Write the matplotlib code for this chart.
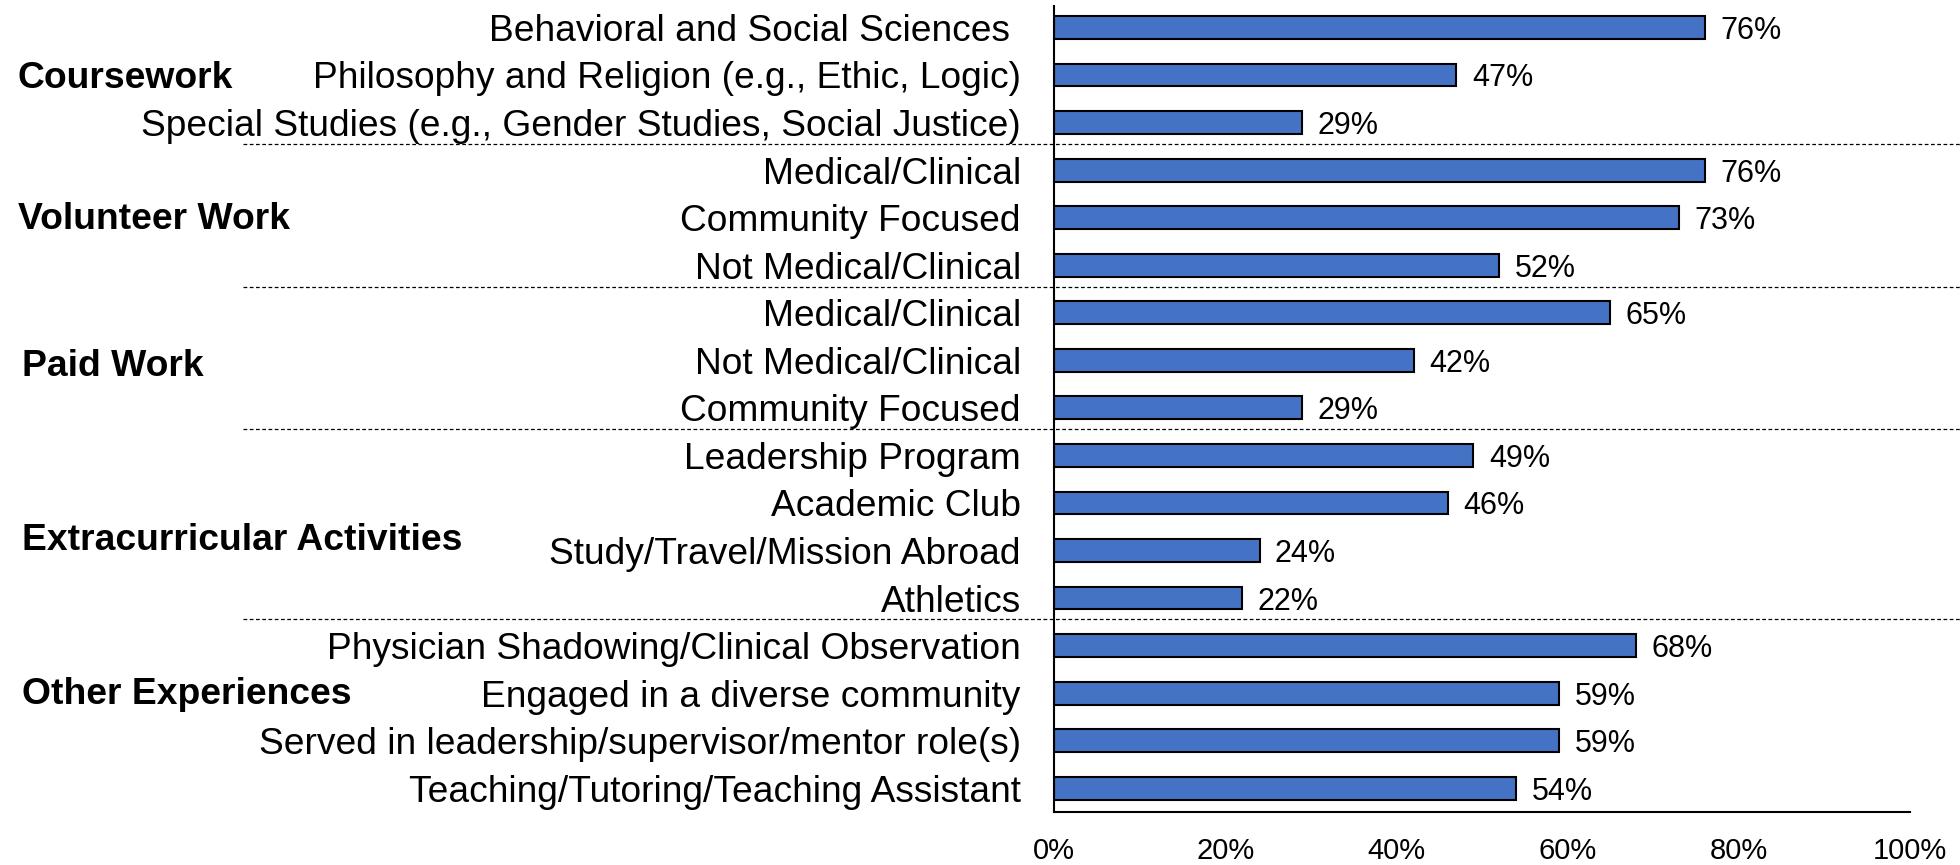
import matplotlib.pyplot as plt
import matplotlib.transforms as mtransforms

plt.rcParams['font.family'] = ['Liberation Sans', 'DejaVu Sans']

labels = [
    "Behavioral and Social Sciences ",
    "Philosophy and Religion (e.g., Ethic, Logic)",
    "Special Studies (e.g., Gender Studies, Social Justice)",
    "Medical/Clinical",
    "Community Focused",
    "Not Medical/Clinical",
    "Medical/Clinical",
    "Not Medical/Clinical",
    "Community Focused",
    "Leadership Program",
    "Academic Club",
    "Study/Travel/Mission Abroad",
    "Athletics",
    "Physician Shadowing/Clinical Observation",
    "Engaged in a diverse community",
    "Served in leadership/supervisor/mentor role(s)",
    "Teaching/Tutoring/Teaching Assistant",
]
values = [76, 47, 29, 76, 73, 52, 65, 42, 29, 49, 46, 24, 22, 68, 59, 59, 54]
groups = ["Coursework", "Volunteer Work", "Paid Work",
          "Extracurricular Activities", "Other Experiences"]
group_sizes = [3, 3, 3, 4, 4]
group_label_pos = [1.0, 3.95, 7.05, 10.7, 13.95]
group_label_x = [0.009, 0.009, 0.011, 0.011, 0.011]
xticks = [0, 20, 40, 60, 80, 100]

fig = plt.figure(figsize=(19.6, 8.65), dpi=100)
ax = fig.add_axes([0.5378, 0.0613, 0.4367, 0.9317])

pos = list(range(len(values)))
ax.barh(pos, values, height=0.48, color='#4472C4', edgecolor='black', linewidth=1.5)
for p, v in zip(pos, values):
    ax.text(v + 1.8, p, f"{v}%", va='center_baseline', ha='left', fontsize=22)

ax.set_xlim(0, 100)
ax.set_ylim(16.5, -0.45)
ax.set_yticks(pos)
ax.set_yticklabels(labels, fontsize=26.7)
ax.set_xticks(xticks)
ax.set_xticklabels([f"{t}%" for t in xticks], fontsize=21)
ax.tick_params(axis='y', length=0, pad=24)
ax.tick_params(axis='x', length=0, pad=18)
for s in ['top', 'right']:
    ax.spines[s].set_visible(False)
ax.spines['left'].set_linewidth(1.5)
ax.spines['bottom'].set_linewidth(1.5)

# group separators and bold group names
trans = mtransforms.blended_transform_factory(fig.transFigure, ax.transData)
start = 0
for i, (g, n) in enumerate(zip(groups, group_sizes)):
    fig.text(group_label_x[i], group_label_pos[i], g, transform=trans,
             fontsize=26.8, fontweight='bold', va='center_baseline', ha='left')
    if i < len(groups) - 1:
        yb = start + n - 0.55
        ax.plot([0.124, 1.0], [yb, yb], transform=trans, color='black',
                linestyle=(0, (3, 2)), linewidth=0.9, clip_on=False)
    start += n

fig.savefig('out.png', dpi=100)
